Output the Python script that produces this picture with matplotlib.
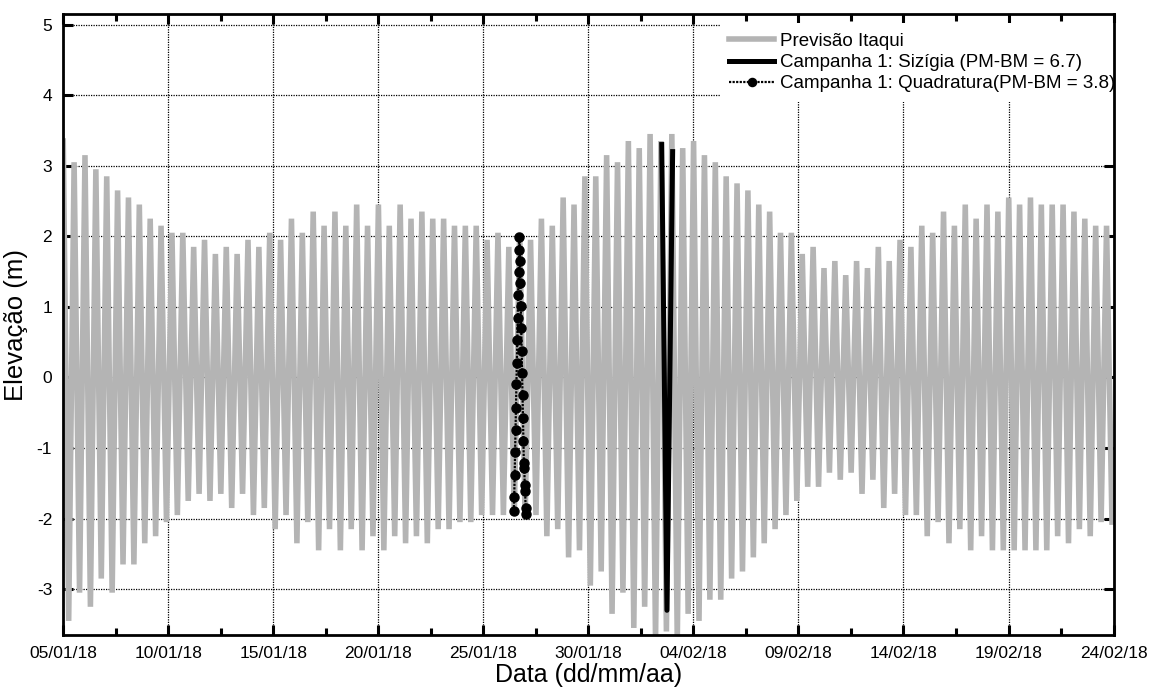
"""Previsão de maré em Itaqui x níveis medidos na Campanha 1."""

import matplotlib

matplotlib.use("Agg")
import matplotlib.dates as mdates
import matplotlib.pyplot as plt
import pandas as pd

# preamares e baixa-mares da previsão (m), em ordem, a partir de 05/01/18 00:00
PREAMAR = [
    3.35, 3.05, 3.15, 2.95, 2.85, 2.65, 2.55, 2.45, 2.25, 2.15,
    2.05, 2.05, 1.85, 1.95, 1.75, 1.85, 1.75, 1.95, 1.85, 2.05,
    1.95, 2.25, 2.05, 2.35, 2.15, 2.35, 2.15, 2.45, 2.15, 2.45,
    2.15, 2.45, 2.25, 2.35, 2.25, 2.25, 2.15, 2.15, 2.15, 1.95,
    2.05, 1.85, 2.05, 1.95, 2.25, 2.15, 2.55, 2.45, 2.85, 2.85,
    3.15, 3.05, 3.35, 3.25, 3.45, 3.35, 3.45, 3.25, 3.35, 3.15,
    3.05, 2.85, 2.75, 2.65, 2.45, 2.35, 2.05, 2.05, 1.75, 1.85,
    1.55, 1.65, 1.45, 1.65, 1.55, 1.85, 1.65, 1.95, 1.85, 2.15,
    2.05, 2.35, 2.15, 2.45, 2.25, 2.45, 2.35, 2.55, 2.45, 2.55,
    2.45, 2.45, 2.45, 2.35, 2.25, 2.15, 2.15,
]
BAIXAMAR = [
    -3.45, -3.05, -3.25, -2.85, -3.05, -2.65, -2.65, -2.35, -2.25, -2.05,
    -1.95, -1.75, -1.65, -1.75, -1.65, -1.85, -1.65, -1.95, -1.85, -2.15,
    -1.95, -2.35, -2.05, -2.45, -2.15, -2.45, -2.15, -2.45, -2.25, -2.45,
    -2.25, -2.35, -2.25, -2.35, -2.15, -2.15, -2.05, -2.05, -1.95, -1.95,
    -1.95, -1.95, -2.00, -1.95, -2.25, -2.15, -2.55, -2.45, -2.95, -2.75,
    -3.35, -3.05, -3.55, -3.25, -3.75, -3.60, -3.75, -3.35, -3.45, -3.15,
    -3.15, -2.85, -2.75, -2.55, -2.35, -2.15, -1.95, -1.75, -1.55, -1.55,
    -1.35, -1.45, -1.35, -1.65, -1.45, -1.85, -1.65, -1.95, -1.95, -2.25,
    -2.05, -2.35, -2.15, -2.45, -2.25, -2.45, -2.45, -2.45, -2.45, -2.45,
    -2.45, -2.25, -2.35, -2.15, -2.25, -2.05, -2.05,
]
INICIO_PREVISAO = "2018-01-05 00:00"
INTERVALO_EXTREMOS = "22350s"  # meio ciclo semidiurno (~6h12m)

# Campanha 1 - sizígia (extremos registrados)
SIZIGIA_HORA = ["2018-02-02 11:45", "2018-02-02 17:45", "2018-02-03 00:15"]
SIZIGIA_NIVEL = [3.30, -3.30, 3.20]

# Campanha 1 - quadratura, leituras a cada 30 min
QUADRATURA_INICIO = "2018-01-26 10:45"
QUADRATURA_NIVEL = [
    -1.89, -1.69, -1.38, -1.06, -0.74, -0.43, -0.10, 0.21, 0.53, 0.84,
    1.17, 1.49, 1.80, 1.99, 1.65, 1.34, 1.01, 0.70, 0.38, 0.06,
    -0.25, -0.58, -0.90, -1.21, -1.29, -1.53, -1.61, -1.85, -1.93,
]

ROTULOS_X = [
    "05/01/18", "10/01/18", "15/01/18", "20/01/18", "25/01/18", "30/01/18",
    "04/02/18", "09/02/18", "14/02/18", "19/02/18", "24/02/18",
]
TICKS_Y = [-3, -2, -1, 0, 1, 2, 3, 4, 5]

CINZA = "#b4b4b4"


def main() -> None:
    plt.rcParams["font.family"] = ["Liberation Sans", "DejaVu Sans"]

    nivel = []
    for pm, bm in zip(PREAMAR, BAIXAMAR):
        nivel.extend([pm, bm])
    tempo = pd.date_range(INICIO_PREVISAO, periods=len(nivel), freq=INTERVALO_EXTREMOS)

    sizigia_t = pd.to_datetime(SIZIGIA_HORA)
    quad_t = pd.date_range(QUADRATURA_INICIO, periods=len(QUADRATURA_NIVEL), freq="30min")

    datas_x = pd.to_datetime(ROTULOS_X, format="%d/%m/%y")
    meios = datas_x[:-1] + (datas_x[1:] - datas_x[:-1]) / 2

    fig = plt.figure(figsize=(11.5, 6.9), dpi=100)
    ax = fig.add_axes([0.0550, 0.0797, 0.9133, 0.9000])

    ax.plot(tempo, nivel, color=CINZA, lw=4.0, solid_joinstyle="miter",
            label="Previsão Itaqui", zorder=2)
    ax.plot(sizigia_t, SIZIGIA_NIVEL, color="black", lw=3.6,
            label="Campanha 1: Sizígia (PM-BM = 6.7)", zorder=3)
    ax.plot(quad_t, QUADRATURA_NIVEL, color="black", lw=1.6, ls=(0, (1, 0.6)),
            marker="o", ms=6.5, label="Campanha 1: Quadratura(PM-BM = 3.8)", zorder=4)

    ax.set_xlim(datas_x[0], datas_x[-1])
    ax.set_ylim(-3.65, 5.15)
    ax.set_xticks(datas_x)
    ax.set_xticks(meios, minor=True)
    ax.xaxis.set_major_formatter(mdates.DateFormatter("%d/%m/%y"))
    ax.set_yticks(TICKS_Y)
    ax.set_yticklabels([str(v) for v in TICKS_Y])

    ax.grid(True, which="major", color="black", ls=(0, (1, 1)), lw=0.9)
    ax.set_axisbelow(True)
    ax.tick_params(which="both", direction="in", top=True, right=True,
                   labelsize=12.5, pad=8)
    ax.tick_params(which="major", length=7, width=2.2)
    ax.tick_params(which="minor", length=5, width=2.2)
    for sp in ax.spines.values():
        sp.set_linewidth(2)
        sp.set_zorder(6)  # borda por cima da caixa da legenda

    ax.set_xlabel("Data (dd/mm/aa)", fontsize=18, labelpad=1)
    ax.set_ylabel("Elevação (m)", fontsize=18.5, labelpad=6)

    # legenda sem moldura, encostada no canto (o texto passa um pouco da borda)
    leg = ax.legend(loc="upper right", bbox_to_anchor=(1.0104, 0.985),
                    fontsize=13.5, frameon=True, fancybox=False,
                    framealpha=1, edgecolor="none", handlelength=2.4,
                    handletextpad=0.3, labelspacing=0.22, borderpad=0.5,
                    borderaxespad=0.0, numpoints=1, markerscale=0.9)
    leg.set_zorder(5)

    fig.savefig("out.png", dpi=100)
    plt.close(fig)


if __name__ == "__main__":
    main()
